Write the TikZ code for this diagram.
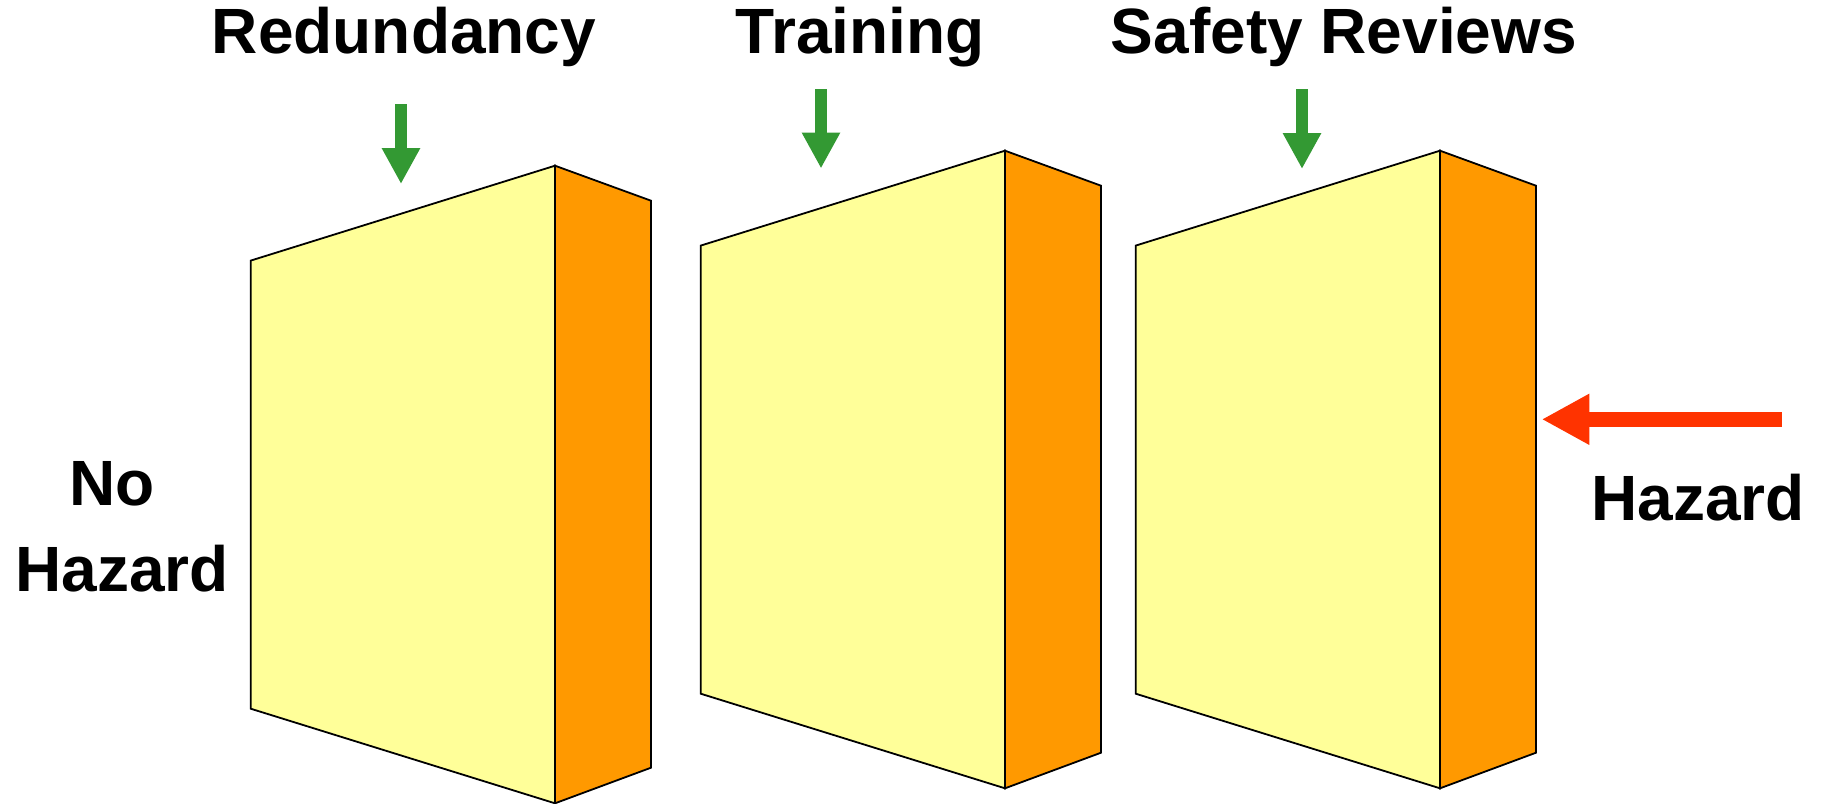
\documentclass[tikz,border=0pt]{standalone}
\usepackage{fontspec}
\setmainfont{Liberation Sans}
\usetikzlibrary{arrows.meta,positioning}

\definecolor{wallfront}{HTML}{FFFF99}
\definecolor{wallside}{HTML}{FF9900}
\definecolor{guardgreen}{HTML}{339933}
\definecolor{hazardred}{HTML}{FF3300}

\begin{document}
\begin{tikzpicture}[
    x=0.5pt, y=-0.5pt,
    front/.style={draw=black, fill=wallfront, line width=0.9pt, line join=miter},
    side/.style={front, fill=wallside},
    title/.style={font=\bfseries\fontsize{32}{43}\selectfont, anchor=base, inner sep=0pt},
    guard/.style={draw=guardgreen, line width=6pt, -{Triangle[length=18pt, width=18pt]}},
    threat/.style={draw=hazardred, line width=7.5pt, -{Triangle[length=23.8pt, width=23.8pt]}}
]
    \useasboundingbox (0,0) rectangle (1825,803);

    % the three walls
    \foreach \dx/\dy in {-450/15, 0/0, 435/0} {
        \begin{scope}[shift={(\dx,\dy)}]
            \draw[front] (700.7,245.6) -- (1005,150.7) -- (1005,788.3) -- (700.7,693.7) -- cycle;
            \draw[side] (1005,150.7) -- (1101,185.7) -- (1101,752.7) -- (1005,788.3) -- cycle;
        \end{scope}
    }

    % labels
    \node[title] (redundancy) at (404,53.3) {Redundancy};
    \node[title] (training) at (860,53.3) {Training};
    \node[title] (reviews) at (1344,53.3) {Safety Reviews};
    \node[title] (hazard) at (1698,520) {Hazard};
    \node[title] (no) at (111.7,505) {No};
    \node[title] (nohazard) at (122,591) {Hazard};

    % arrows
    \coordinate (redundancy top) at (401,104);
    \coordinate (redundancy tip) at (401,184);
    \coordinate (training top) at (821,89);
    \coordinate (training tip) at (821,168.5);
    \coordinate (reviews top) at (1302,89);
    \coordinate (reviews tip) at (1302,169);
    \coordinate (hazard start) at (1781.7,419.3);
    \coordinate (hazard tip) at (1541.7,419.3);

    \draw[guard] (redundancy top) -- (redundancy tip);
    \draw[guard] (training top) -- (training tip);
    \draw[guard] (reviews top) -- (reviews tip);
    \draw[threat] (hazard start) -- (hazard tip);
\end{tikzpicture}
\end{document}
